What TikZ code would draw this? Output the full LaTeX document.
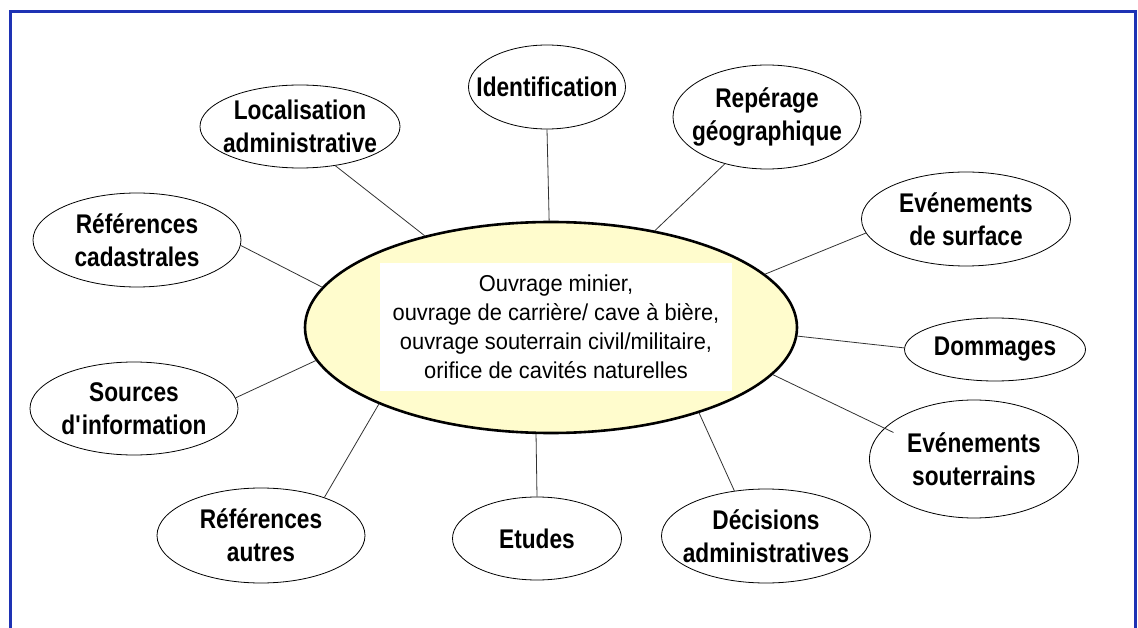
\documentclass[tikz,border=0pt]{standalone}
\usepackage{fontspec}
\setmainfont{Liberation Sans}
\newfontfamily\bubblefont{Liberation Sans}[FakeStretch=0.84]
\newfontfamily\hubfont{Liberation Sans}[FakeStretch=0.95]
\usetikzlibrary{shapes.geometric}
\definecolor{framecol}{RGB}{30,50,180}
\definecolor{hubfill}{RGB}{255,252,205}
\definecolor{linkcol}{RGB}{50,50,50}

\begin{document}
\begin{tikzpicture}[
	x=1pt,y=-1pt,
	bubble/.style={ellipse,draw,line width=0.8pt,fill=white,inner xsep=-40pt,inner ysep=-20pt,align=center,font=\bubblefont\bfseries\fontsize{27}{33}\selectfont},
	hub/.style={ellipse,draw,line width=2.6pt,fill=hubfill,inner sep=0pt,minimum width=492pt,minimum height=211pt},
	hubtext/.style={rectangle,fill=white,inner sep=0pt,align=center,minimum width=352pt,minimum height=127pt,font=\hubfont\fontsize{23}{29}\selectfont},
	link/.style={draw=linkcol,line width=0.8pt},
	frame/.style={draw=framecol,line width=3pt}
	]
	\useasboundingbox (0,0) rectangle (1138,628);
	\draw[frame] (10.5,660) -- (10.5,11.5) -- (1135.5,11.5) -- (1135.5,660);

	\node[hub] (centre) at (551,327.5) {};
	\node[hubtext] (centretext) at (556,327) {Ouvrage minier,\\ouvrage de carrière/ cave à bière,\\ouvrage souterrain civil/militaire,\\orifice de cavités naturelles};

	\node[bubble,minimum width=157pt,minimum height=84pt] (ident) at (547,87) {Identification};
	\node[bubble,minimum width=200pt,minimum height=83pt] (loc) at (300,126.5) {Localisation\\administrative};
	\node[bubble,minimum width=188pt,minimum height=104pt] (rep) at (767,117) {Repérage\\géographique};
	\node[bubble,minimum width=209pt,minimum height=94pt] (surf) at (966,219) {Evénements\\de surface};
	\node[bubble,minimum width=181pt,minimum height=63pt] (dom) at (995,349.5) {Dommages};
	\node[bubble,minimum width=209pt,minimum height=118pt] (sout) at (974,459) {Evénements\\souterrains};
	\node[bubble,minimum width=209pt,minimum height=94pt] (dec) at (766,536) {Décisions\\administratives};
	\node[bubble,minimum width=169pt,minimum height=83pt] (etu) at (537,538.5) {Etudes};
	\node[bubble,minimum width=208pt,minimum height=95pt] (refa) at (261,535.5) {Références\\autres};
	\node[bubble,minimum width=208pt,minimum height=93pt] (src) at (134,408.5) {Sources\\d\textquotesingle information};
	\node[bubble,minimum width=208pt,minimum height=94pt] (cad) at (137,240) {Références\\cadastrales};

	\draw[link] (ident.270) -- (centre.91);
	\draw[link] (loc.312) -- (centre.144);
	\draw[link] (rep.228) -- (centre.43);
	\draw[link] (surf.188) -- (centre.14);
	\draw[link] (dom.179) -- (centre.358);
	\draw[link,shorten <=-10pt] (sout.161) -- (centre.348);
	\draw[link] (dec.125) -- (centre.330);
	\draw[link] (etu.90) -- (centre.262);
	\draw[link] (refa.31) -- (centre.204);
	\draw[link] (src.6) -- (centre.188);
	\draw[link] (cad.357) -- (centre.170);
\end{tikzpicture}
\end{document}
